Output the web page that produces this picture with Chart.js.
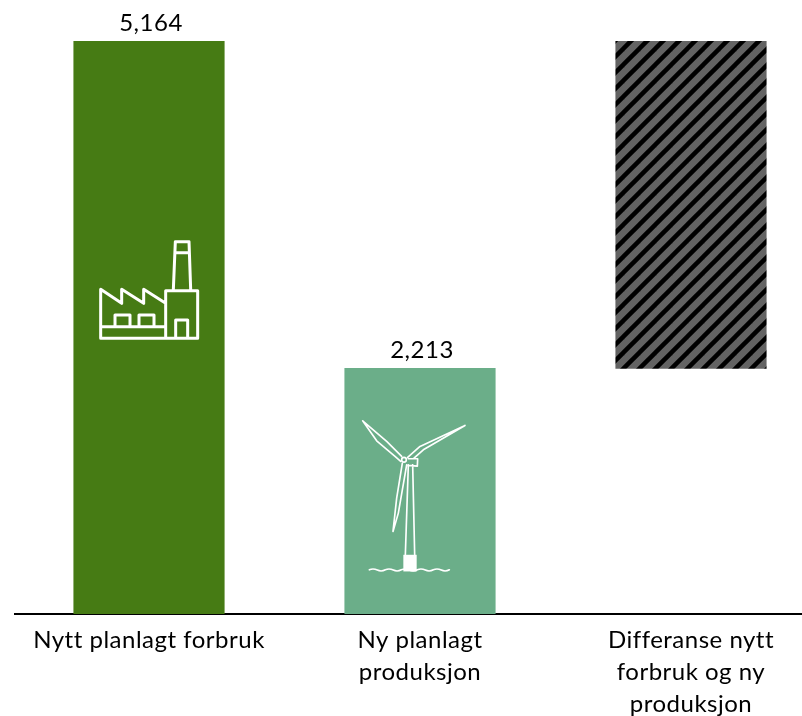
<!DOCTYPE html>
<html lang="no">
<head>
<meta charset="utf-8">
<title>Nytt forbruk og ny produksjon</title>
<script src="https://cdn.jsdelivr.net/npm/chart.js@4"></script>
<style>
    html, body { margin: 0; padding: 0; background: #fff; overflow: hidden; }
    canvas { display: block; }
</style>
</head>
<body>
<canvas id="chart" width="802" height="716"></canvas>
<script>
const categories = [
    ['Nytt planlagt forbruk'],
    ['Ny planlagt', 'produksjon'],
    ['Differanse nytt', 'forbruk og ny', 'produksjon'],
];
const forbruk = 5164;
const produksjon = 2213;
const barValues = [forbruk, produksjon, [produksjon, forbruk]];
const shownLabels = [forbruk, produksjon, null];

const colors = {
    forbruk: '#467b14',
    produksjon: '#6bae89',
    hatchBase: '#636363',
    hatchLine: '#000000',
    axis: '#000000',
    text: '#000000',
};

const fontFamily = 'Lato, "Open Sans", sans-serif';

function hatchPattern() {
    const size = 16;
    const tile = document.createElement('canvas');
    tile.width = size;
    tile.height = size;
    const c = tile.getContext('2d');
    c.fillStyle = colors.hatchBase;
    c.fillRect(0, 0, size, size);
    c.strokeStyle = colors.hatchLine;
    c.lineWidth = 4.5;
    [-size, 0, size].forEach((dx) => {
        c.beginPath();
        c.moveTo(dx - 2, size + 2);
        c.lineTo(dx + size + 2, -2);
        c.stroke();
    });
    return c.createPattern(tile, 'repeat');
}

// icons traced in a 3x grid, drawn white on top of the bars
function drawFactory(ctx) {
    ctx.beginPath();
    ctx.moveTo(92, 355);
    ctx.lineTo(92, 208);
    ctx.lineTo(155, 250);
    ctx.lineTo(155, 208);
    ctx.lineTo(221, 250);
    ctx.lineTo(221, 208);
    ctx.lineTo(287, 250);
    ctx.moveTo(287, 355);
    ctx.lineTo(287, 212);
    ctx.lineTo(383, 212);
    ctx.lineTo(383, 355);
    ctx.closePath();
    ctx.moveTo(92, 355);
    ctx.lineTo(287, 355);
    ctx.moveTo(92, 320);
    ctx.lineTo(287, 320);
    ctx.moveTo(310, 208);
    ctx.lineTo(316, 65);
    ctx.lineTo(357, 65);
    ctx.lineTo(362, 208);
    ctx.moveTo(318, 98);
    ctx.lineTo(355, 98);
    ctx.moveTo(135, 320);
    ctx.lineTo(135, 285);
    ctx.lineTo(180, 285);
    ctx.lineTo(180, 320);
    ctx.moveTo(207, 320);
    ctx.lineTo(207, 285);
    ctx.lineTo(252, 285);
    ctx.lineTo(252, 320);
    ctx.moveTo(317, 355);
    ctx.lineTo(317, 300);
    ctx.lineTo(353, 300);
    ctx.lineTo(353, 355);
    ctx.lineWidth = 9;
    ctx.stroke();
}

function drawTurbine(ctx) {
    ctx.lineWidth = 5;
    ctx.beginPath();
    // blades
    ctx.moveTo(185, 165);
    ctx.lineTo(140, 120);
    ctx.lineTo(68, 58);
    ctx.lineTo(110, 118);
    ctx.lineTo(165, 165);
    ctx.lineTo(182, 180);
    ctx.moveTo(203, 168);
    ctx.lineTo(240, 135);
    ctx.lineTo(375, 72);
    ctx.lineTo(250, 145);
    ctx.lineTo(222, 170);
    ctx.moveTo(187, 185);
    ctx.lineTo(170, 290);
    ctx.lineTo(159, 390);
    ctx.lineTo(175, 335);
    ctx.lineTo(200, 190);
    // tower
    ctx.moveTo(205, 190);
    ctx.lineTo(196, 460);
    ctx.moveTo(218, 190);
    ctx.lineTo(224, 460);
    // nacelle
    ctx.moveTo(205, 172);
    ctx.lineTo(233, 172);
    ctx.lineTo(232, 194);
    ctx.lineTo(205, 192);
    ctx.stroke();
    ctx.beginPath();
    ctx.arc(192, 175, 7, 0, Math.PI * 2);
    ctx.stroke();
    // foundation
    ctx.fillRect(190, 460, 40, 50);
    // waves
    ctx.beginPath();
    ctx.moveTo(88, 505);
    for (let i = 0; i < 5; i++) {
        const x = 88 + i * 48;
        ctx.quadraticCurveTo(x + 12, 500, x + 24, 506);
        ctx.quadraticCurveTo(x + 36, 512, x + 48, 505);
    }
    ctx.stroke();
}

const barDecorations = {
    id: 'barDecorations',
    beforeDraw(chart) {
        // the tick labels run a little wider than plain Lato
        chart.ctx.letterSpacing = '0.5px';
    },
    afterDatasetsDraw(chart) {
        const { ctx } = chart;
        const bars = chart.getDatasetMeta(0).data;
        ctx.save();
        ctx.fillStyle = colors.text;
        ctx.font = `24px ${fontFamily}`;
        ctx.textAlign = 'center';
        ctx.textBaseline = 'middle';
        shownLabels.forEach((value, i) => {
            if (value === null) return;
            ctx.fillText(value.toLocaleString('en-US'), bars[i].x + 2, bars[i].y - 18);
        });
        ctx.restore();

        ctx.save();
        ctx.strokeStyle = '#fff';
        ctx.fillStyle = '#fff';
        ctx.lineJoin = 'round';
        ctx.lineCap = 'round';
        ctx.translate(bars[0].x - 79, bars[0].y + 179);
        ctx.scale(1 / 3, 1 / 3);
        drawFactory(ctx);
        ctx.restore();

        ctx.save();
        ctx.strokeStyle = '#fff';
        ctx.fillStyle = '#fff';
        ctx.lineJoin = 'round';
        ctx.lineCap = 'round';
        ctx.translate(bars[1].x - 80, bars[1].y + 33);
        ctx.scale(1 / 3, 1 / 3);
        drawTurbine(ctx);
        ctx.restore();
    },
};

new Chart(document.getElementById('chart').getContext('2d'), {
    type: 'bar',
    data: {
        datasets: [
            {
                data: barValues.map((y, i) => ({ x: i, y })),
                backgroundColor: [colors.forbruk, colors.produksjon, hatchPattern()],
                borderWidth: 0,
                barThickness: 150.5,
            },
        ],
    },
    options: {
        responsive: false,
        animation: false,
        layout: { padding: { top: 41, left: 15, right: 0, bottom: 0 } },
        plugins: {
            legend: { display: false },
            tooltip: { enabled: false },
        },
        scales: {
            x: {
                type: 'linear',
                offset: false,
                min: -0.4945,
                max: 2.4096,
                afterBuildTicks(scale) {
                    scale.ticks = categories.map((_, i) => ({ value: i }));
                },
                afterFit(scale) {
                    scale.height = 102;
                },
                grid: { display: false, drawTicks: false },
                border: { color: colors.axis, width: 2 },
                ticks: {
                    autoSkip: false,
                    maxRotation: 0,
                    padding: 10,
                    color: colors.text,
                    font: { family: fontFamily, size: 24, lineHeight: 32 / 24 },
                    callback: (value) => categories[value] || '',
                },
            },
            y: {
                display: false,
                min: 0,
                max: forbruk,
            },
        },
    },
    plugins: [barDecorations],
});
</script>
</body>
</html>
